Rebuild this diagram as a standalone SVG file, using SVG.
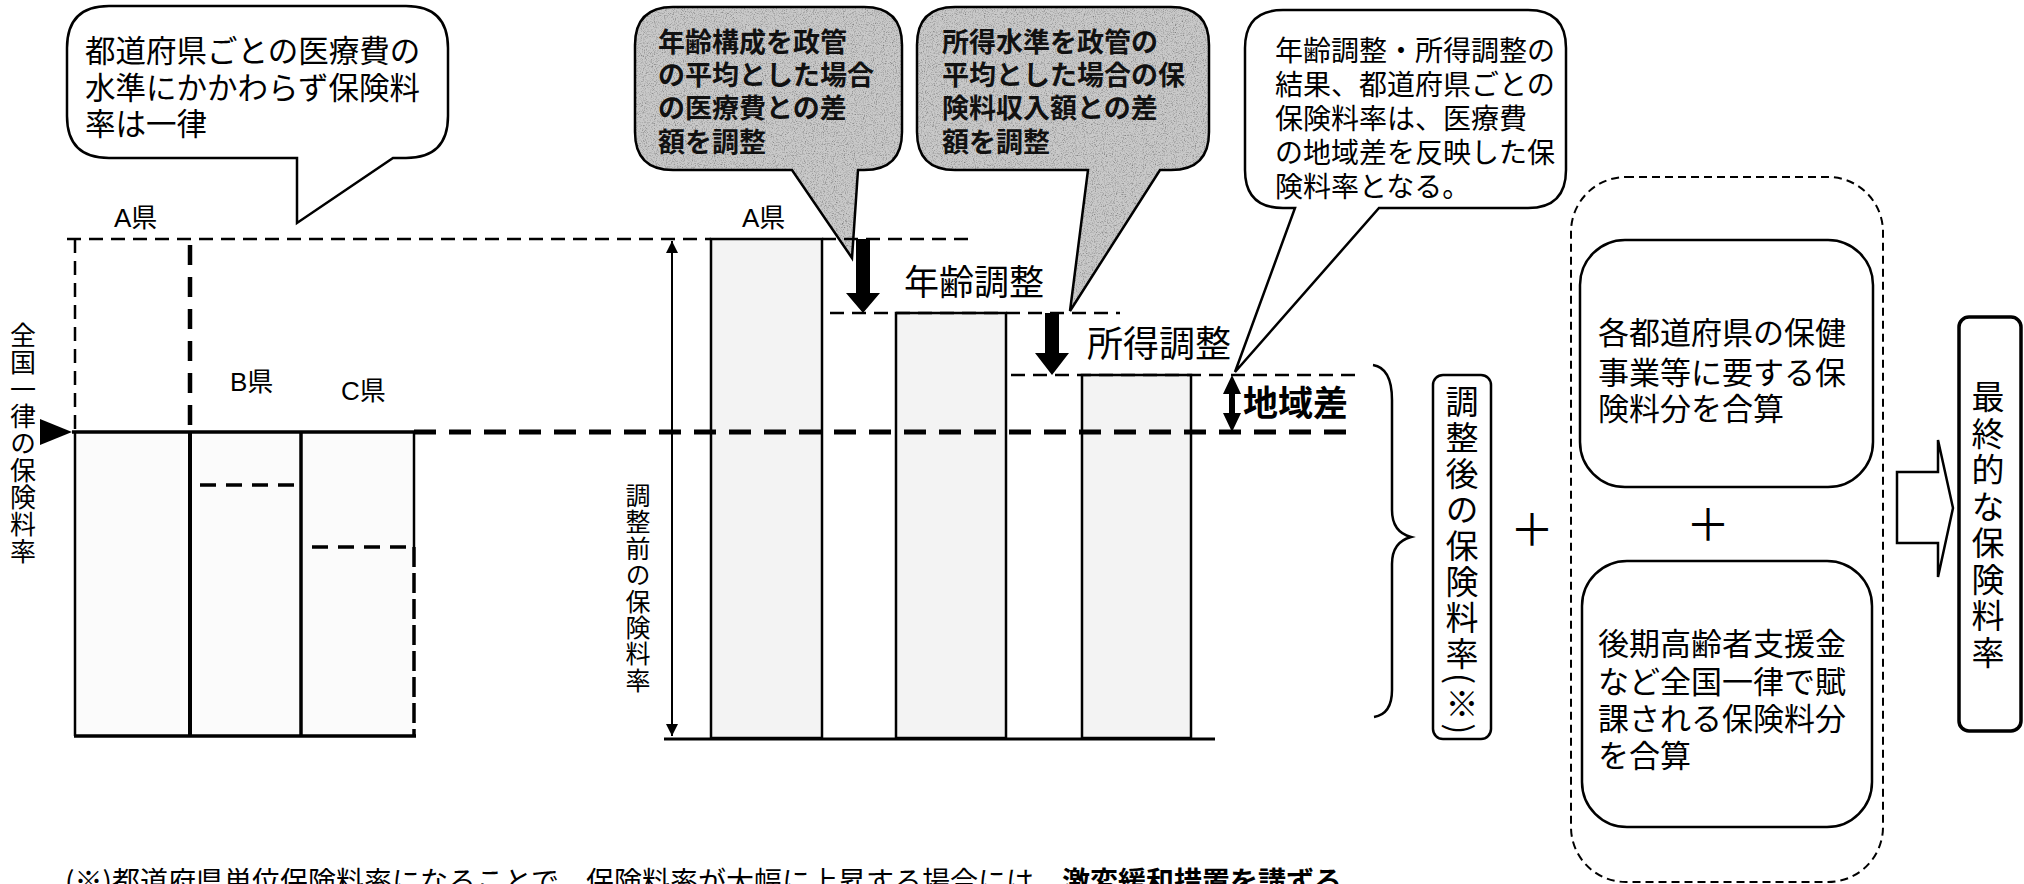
<svg xmlns="http://www.w3.org/2000/svg" width="2024" height="884" viewBox="0 0 2024 884">
<defs>
<style>
.t{font-family:"Noto Sans CJK JP","Noto Sans CJK SC",sans-serif;fill:#000}
.lat{font-family:"Liberation Sans","Noto Sans CJK JP",sans-serif;fill:#000}
.v{writing-mode:vertical-rl}
.bub{fill:#fff;stroke:#000;stroke-width:2.5}
.gfill{fill:#c9c9c9;stroke:none}
.gline{fill:none;stroke:#000;stroke-width:2.5}
.gt{font-family:"Noto Sans CJK JP",sans-serif;font-weight:bold;fill:#111}
.bar{fill:#f3f3f3;stroke:#000;stroke-width:2.5}
.ln{stroke:#000;fill:none}
.dthin{stroke:#000;stroke-width:2.5;stroke-dasharray:14 8;fill:none}
.dthick{stroke:#000;stroke-width:5;stroke-dasharray:22 13;fill:none}
.box{fill:#fff;stroke:#000;stroke-width:2.5}
</style>
<filter id="grain" x="0" y="0" width="100%" height="100%">
<feTurbulence type="fractalNoise" baseFrequency="0.9" numOctaves="2" seed="4" result="n"/>
<feColorMatrix in="n" type="matrix" values="0 0 0 0 0  0 0 0 0 0  0 0 0 0 0  0 0 0 -1.6 0.85" result="dots"/>
<feComposite in="dots" in2="SourceAlpha" operator="in" result="d"/>
<feMerge><feMergeNode in="SourceGraphic"/><feMergeNode in="d"/></feMerge>
</filter>
<marker id="ah" viewBox="0 0 10 10" refX="10" refY="5" markerWidth="12" markerHeight="22" markerUnits="userSpaceOnUse" orient="auto-start-reverse">
<path d="M0,0 L10,5 L0,10 Z" fill="#000"/>
</marker>
</defs>
<rect width="2024" height="884" fill="#fff"/>

<g id="bubble1">
<path class="bub" d="M109,6 H406 Q448,6 448,48 V116 Q448,158 406,158 H393 L297,223 L297,158 H109 Q67,158 67,116 V48 Q67,6 109,6 Z"/>
<text class="t" font-size="30.5" x="85" y="62">都道府県ごとの医療費の</text>
<text class="t" font-size="30.5" x="85" y="99">水準にかかわらず保険料</text>
<text class="t" font-size="30.5" x="85" y="135">率は一律</text>
</g>

<g id="bubble2">
<path class="gfill" filter="url(#grain)" d="M673,7 H864 Q902,7 902,45 V132 Q902,170 864,170 H858 L852,258 L792,170 H673 Q635,170 635,132 V45 Q635,7 673,7 Z"/>
<path class="gline" d="M673,7 H864 Q902,7 902,45 V132 Q902,170 864,170 H858 L852,258 L792,170 H673 Q635,170 635,132 V45 Q635,7 673,7 Z"/>
<text class="gt" font-size="27" x="658" y="52">年齢構成を政管</text>
<text class="gt" font-size="27" x="658" y="85">の平均とした場合</text>
<text class="gt" font-size="27" x="658" y="118">の医療費との差</text>
<text class="gt" font-size="27" x="658" y="152">額を調整</text>
</g>

<g id="bubble3">
<path class="gfill" filter="url(#grain)" d="M955,7 H1171 Q1209,7 1209,45 V132 Q1209,170 1171,170 H1160 L1070,311 L1088,170 H955 Q917,170 917,132 V45 Q917,7 955,7 Z"/>
<path class="gline" d="M955,7 H1171 Q1209,7 1209,45 V132 Q1209,170 1171,170 H1160 L1070,311 L1088,170 H955 Q917,170 917,132 V45 Q917,7 955,7 Z"/>
<text class="gt" font-size="27" x="942" y="52">所得水準を政管の</text>
<text class="gt" font-size="27" x="942" y="85">平均とした場合の保</text>
<text class="gt" font-size="27" x="942" y="118">険料収入額との差</text>
<text class="gt" font-size="27" x="942" y="152">額を調整</text>
</g>

<g id="bubble4">
<path class="bub" d="M1283,10 H1528 Q1566,10 1566,48 V170 Q1566,208 1528,208 H1379 L1235,372 L1295,208 H1283 Q1245,208 1245,170 V48 Q1245,10 1283,10 Z"/>
<text class="t" font-size="28" x="1275" y="61">年齢調整・所得調整の</text>
<text class="t" font-size="28" x="1275" y="95">結果、都道府県ごとの</text>
<text class="t" font-size="28" x="1275" y="129">保険料率は、医療費</text>
<text class="t" font-size="28" x="1275" y="163">の地域差を反映した保</text>
<text class="t" font-size="28" x="1275" y="197">険料率となる。</text>
</g>

<g id="left-chart">
<rect x="75" y="432" width="115" height="304" fill="#fbfbfb"/>
<rect x="190" y="432" width="111" height="304" fill="#fbfbfb"/>
<rect x="301" y="432" width="113" height="304" fill="#fbfbfb"/>
<path class="dthin" d="M75,239 V432"/>
<path class="ln" stroke-width="4.5" stroke-dasharray="20 12" d="M190,245 V432"/>
<path class="ln" stroke-width="3.5" d="M72,432 H414"/>
<path class="ln" stroke-width="2.5" d="M75,432 V736"/>
<path class="ln" stroke-width="4" d="M190,432 V736"/>
<path class="ln" stroke-width="3.5" d="M301,432 V736"/>
<path class="ln" stroke-width="2.5" d="M414,432 V547"/>
<path class="ln" stroke-width="3.5" stroke-dasharray="20 6" d="M414,547 V736"/>
<path class="ln" stroke-width="3.5" d="M74,736 H416"/>
<path class="ln" stroke-width="3.5" stroke-dasharray="16 10" d="M200,485 H299"/>
<path class="ln" stroke-width="3.5" stroke-dasharray="16 10" d="M312,547 H413"/>
<polygon points="40,419 72,432 40,445" fill="#000"/>
<text class="lat" font-size="26" x="114" y="227">A県</text>
<text class="lat" font-size="26" x="230" y="391">B県</text>
<text class="lat" font-size="26" x="341" y="400">C県</text>
<text class="t v" font-size="26" x="23" y="322" letter-spacing="1">全国一律の保険料率</text>
</g>

<g id="middle-chart">
<rect class="bar" x="711" y="239" width="111" height="499"/>
<rect class="bar" x="896" y="313" width="110" height="425"/>
<rect class="bar" x="1082" y="375" width="109" height="363"/>
<path class="ln" stroke-width="3" d="M664,739 H1215"/>
<path class="ln" stroke-width="2" marker-start="url(#ah)" marker-end="url(#ah)" d="M672,241 V736"/>
<text class="t v" font-size="25" x="638" y="483" letter-spacing="1.4">調整前の保険料率</text>
<text class="lat" font-size="26" x="742" y="227">A県</text>
<path class="dthin" d="M830,313 H1120"/>
<path class="dthin" d="M1011,375 H1355"/>
<polygon points="856,239 870,239 870,293 880,293 863,313 846,293 856,293" fill="#000"/>
<polygon points="1045,313 1059,313 1059,353 1069,353 1052,375 1035,353 1045,353" fill="#000"/>
<polygon points="1232,375 1241,394 1235,394 1235,413 1241,413 1232,432 1223,413 1229,413 1229,394 1223,394" fill="#000"/>
<text class="t" font-size="35" x="904" y="295">年齢調整</text>
<text class="t" font-size="36" x="1087" y="357">所得調整</text>
<text class="t" font-size="35" font-weight="bold" x="1243" y="416">地域差</text>
</g>

<g id="connectors">
<path class="dthin" d="M67,239 H711 M822,239 H970"/>
<path class="dthick" d="M414,432 H1355"/>
<path class="ln" stroke-width="2.5" d="M1373,365 Q1392,368 1392,400 V510 Q1392,532 1411,537 Q1392,542 1392,564 V690 Q1392,714 1374,717"/>
<polygon points="1897,472 1938,472 1938,440 1953,508 1938,577 1938,543 1897,543" fill="#fff" stroke="#000" stroke-width="2.5"/>
</g>

<g id="adjusted-rate">
<rect class="box" x="1433" y="375" width="58" height="364" rx="10"/>
<text class="t v" font-size="33" x="1462" y="385" letter-spacing="3">調整後の保険料率(※)</text>
</g>

<text class="t" font-size="44" x="1532" y="546" text-anchor="middle">＋</text>

<g id="additions">
<rect x="1571" y="177" width="312" height="705" rx="55" fill="none" stroke="#000" stroke-width="2" stroke-dasharray="8 5"/>
<rect class="box" x="1580" y="240" width="293" height="247" rx="45"/>
<text class="t" font-size="31" x="1598" y="344">各都道府県の保健</text>
<text class="t" font-size="31" x="1598" y="384">事業等に要する保</text>
<text class="t" font-size="31" x="1598" y="420">険料分を合算</text>
<text class="t" font-size="44" x="1708" y="541" text-anchor="middle">＋</text>
<rect class="box" x="1582" y="561" width="290" height="266" rx="45"/>
<text class="t" font-size="31" x="1598" y="655">後期高齢者支援金</text>
<text class="t" font-size="31" x="1598" y="693">など全国一律で賦</text>
<text class="t" font-size="31" x="1598" y="730">課される保険料分</text>
<text class="t" font-size="31" x="1598" y="767">を合算</text>
</g>

<g id="final-rate">
<rect x="1959" y="317" width="62" height="414" rx="10" fill="#fff" stroke="#000" stroke-width="3.5"/>
<text class="t v" font-size="33" x="1988" y="380" letter-spacing="3.5">最終的な保険料率</text>
</g>

<text class="t" font-size="28" x="65" y="892">(※)都道府県単位保険料率になることで、保険料率が大幅に上昇する場合には、<tspan font-weight="bold">激変緩和措置を講ずる</tspan></text>
</svg>
